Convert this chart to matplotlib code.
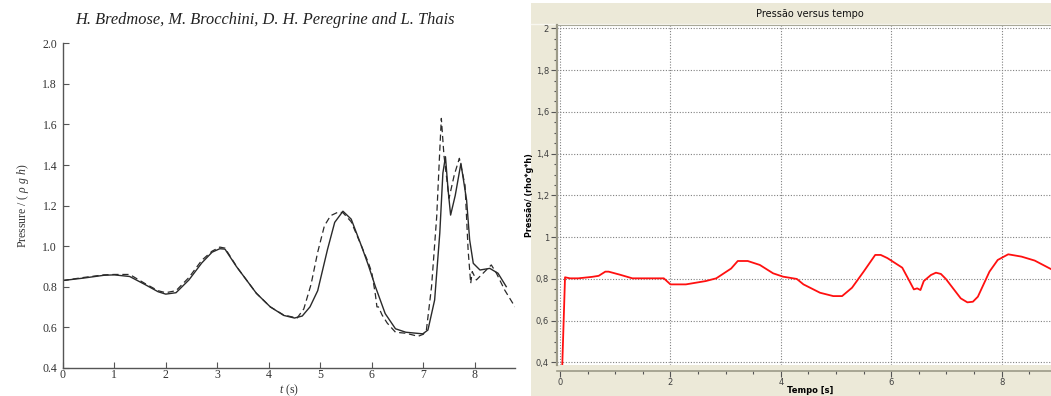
import numpy as np
import matplotlib.pyplot as plt
from matplotlib.patches import Rectangle
from matplotlib.ticker import MultipleLocator, FuncFormatter

plt.rcParams['mathtext.fontset'] = 'custom'
plt.rcParams['mathtext.rm'] = 'Liberation Serif'
plt.rcParams['mathtext.it'] = 'Liberation Serif:italic'

# ******************** Left: paper figure (numerical vs experiment) ********************
t_num = [0.0, 0.4, 0.8, 1.0, 1.3, 1.6, 1.85, 2.0, 2.2, 2.45, 2.7, 2.9, 3.05, 3.15, 3.37,
         3.76, 4.03, 4.29, 4.5, 4.65, 4.8, 4.95, 5.14, 5.28, 5.44, 5.6, 5.8, 5.93, 6.07,
         6.26, 6.46, 6.66, 6.99, 7.09, 7.22, 7.32, 7.38, 7.43, 7.48, 7.53, 7.62, 7.73,
         7.84, 7.90, 7.97, 8.10, 8.29, 8.45, 8.61]
p_num = [0.83, 0.842, 0.856, 0.858, 0.85, 0.81, 0.775, 0.763, 0.77, 0.833, 0.917, 0.97,
         0.987, 0.985, 0.90, 0.767, 0.70, 0.658, 0.645, 0.655, 0.70, 0.78, 0.983, 1.117,
         1.172, 1.133, 1.0, 0.908, 0.80, 0.667, 0.592, 0.575, 0.567, 0.586, 0.734, 1.064,
         1.36, 1.441, 1.28, 1.153, 1.25, 1.408, 1.227, 1.03, 0.915, 0.882, 0.89, 0.866, 0.80]

t_exp = [0.0, 0.4, 0.8, 1.0, 1.3, 1.6, 1.85, 2.0, 2.2, 2.45, 2.7, 2.9, 3.05, 3.15, 3.4,
         3.76, 4.03, 4.29, 4.55, 4.68, 4.82, 4.95, 5.08, 5.2, 5.35, 5.44, 5.6, 5.8, 5.93,
         6.0, 6.07, 6.1, 6.13, 6.2, 6.3, 6.46, 6.66, 6.9, 7.0, 7.06, 7.16, 7.26, 7.32,
         7.35, 7.40, 7.50, 7.60, 7.70, 7.81, 7.87, 7.92, 7.95, 8.03, 8.16, 8.32, 8.42,
         8.58, 8.78]
p_exp = [0.83, 0.845, 0.858, 0.86, 0.86, 0.815, 0.78, 0.77, 0.78, 0.845, 0.93, 0.975,
         0.995, 0.99, 0.89, 0.767, 0.70, 0.66, 0.645, 0.69, 0.81, 0.97, 1.10, 1.15, 1.168,
         1.165, 1.12, 1.0, 0.92, 0.87, 0.76, 0.70, 0.70, 0.66, 0.62, 0.575, 0.57, 0.555,
         0.565, 0.586, 0.80, 1.145, 1.474, 1.63, 1.45, 1.236, 1.35, 1.433, 1.30, 0.98,
         0.816, 0.874, 0.833, 0.866, 0.907, 0.866, 0.783, 0.70]

left_yticks = [0.4, 0.6, 0.8, 1.0, 1.2, 1.4, 1.6, 1.8, 2.0]
left_xticks = [0, 1, 2, 3, 4, 5, 6, 7, 8]

# ******************** Right: software screenshot ********************
t_sim = [0.04, 0.09, 0.18, 0.33, 0.58, 0.70, 0.82, 0.88, 1.09, 1.31, 1.88, 2.0, 2.28,
         2.64, 2.83, 3.1, 3.22, 3.40, 3.62, 3.86, 4.04, 4.29, 4.41, 4.71, 4.95, 5.11,
         5.29, 5.50, 5.71, 5.81, 5.93, 6.2, 6.32, 6.41, 6.47, 6.53, 6.59, 6.72, 6.81,
         6.90, 6.99, 7.26, 7.38, 7.48, 7.57, 7.78, 7.93, 8.12, 8.36, 8.60, 8.89]
p_sim = [0.387, 0.808, 0.803, 0.803, 0.81, 0.815, 0.835, 0.835, 0.82, 0.803, 0.803,
         0.774, 0.774, 0.79, 0.803, 0.85, 0.886, 0.886, 0.867, 0.827, 0.811, 0.80, 0.774,
         0.734, 0.718, 0.718, 0.758, 0.835, 0.915, 0.915, 0.90, 0.854, 0.795, 0.75, 0.755,
         0.747, 0.79, 0.819, 0.83, 0.824, 0.80, 0.707, 0.688, 0.691, 0.715, 0.835, 0.891,
         0.918, 0.907, 0.888, 0.848]

right_yticks = [0.4, 0.6, 0.8, 1.0, 1.2, 1.4, 1.6, 1.8, 2.0]
right_xticks = [0, 2, 4, 6, 8]

W, H = 1051, 396
fig = plt.figure(figsize=(W / 100, H / 100), dpi=100, facecolor='white')

# beige window background behind the right chart
fig.patches.append(Rectangle((531 / W, 0), 1 - 531 / W, 1 - 3 / H, transform=fig.transFigure,
                             facecolor='#ece9d8', edgecolor='none', zorder=-10))
fig.lines.append(plt.Line2D([531 / W, 1], [1 - 23.5 / H, 1 - 23.5 / H], transform=fig.transFigure,
                            color='#f8f7f0', lw=1, zorder=-9))

# ---------------- left panel ----------------
ax1 = fig.add_axes([62.7 / W, 1 - 367.7 / H, 452.3 / W, 324.3 / H])
ax1.set_facecolor('none')
ax1.plot(t_num, p_num, color='#2a2a2a', lw=1.0)
ax1.plot(t_exp, p_exp, color='#2a2a2a', lw=0.9, linestyle=(0, (5, 3)))
ax1.set_xlim(0, 8.78)
ax1.set_ylim(0.4, 2.0)
ax1.set_yticks(left_yticks)
ax1.set_xticks(left_xticks)
ax1.yaxis.set_major_formatter(FuncFormatter(lambda v, p: f'{v:.1f}'))
for s in ['top', 'right']:
    ax1.spines[s].set_visible(False)
for s in ['left', 'bottom']:
    ax1.spines[s].set_color('#555555')
    ax1.spines[s].set_linewidth(1.0)
ax1.tick_params(direction='in', length=4, width=0.8, color='#555555', labelcolor='#333333',
                labelsize=8.5)
ax1.tick_params(axis='x', pad=1)
ax1.tick_params(axis='y', pad=4)
for lab in ax1.get_xticklabels() + ax1.get_yticklabels():
    lab.set_fontfamily('Liberation Serif')
ax1.set_xlabel(r'$t$ (s)', fontsize=8.5, color='#333333', family='Liberation Serif',
               labelpad=1)
ax1.set_ylabel(r'Pressure / ( $\rho$ $g$ $h$)', fontsize=8.5, color='#333333',
               family='Liberation Serif', labelpad=8)
fig.text(265 / W, 1 - 19.5 / H, 'H. Bredmose, M. Brocchini, D. H. Peregrine and L. Thais',
         family='Liberation Serif', style='italic', fontsize=11.8, color='#222222',
         ha='center', va='center')

# ---------------- right panel ----------------
ax2 = fig.add_axes([557.3 / W, 1 - 365 / H, 1 - 557.3 / W, 340 / H], facecolor='white')
ax2.plot(t_sim, p_sim, color='#ff1010', lw=1.3)
ax2.set_xlim(-0.05, 8.895)
ax2.set_ylim(0.388, 2.016)
ax2.set_yticks(right_yticks)
ax2.set_xticks(right_xticks)
ax2.yaxis.set_minor_locator(MultipleLocator(0.05))
ax2.xaxis.set_minor_locator(MultipleLocator(0.5))
ax2.yaxis.set_major_formatter(FuncFormatter(lambda v, p: f'{v:g}'.replace('.', ',')))
ax2.grid(True, which='major', color='#808080', linestyle=(0, (1, 1.5)), linewidth=0.8)
ax2.spines['right'].set_visible(False)
ax2.spines['top'].set_color('#a8a898')
ax2.spines['left'].set_color('#9c9a88')
ax2.spines['left'].set_linewidth(1.6)
ax2.spines['bottom'].set_position(('outward', 4))
ax2.spines['bottom'].set_color('#9c9a88')
ax2.spines['bottom'].set_linewidth(1.2)
ax2.tick_params(which='major', length=4, width=0.8, color='#555555', labelsize=6,
                labelcolor='#404040', pad=2)
ax2.tick_params(axis='x', which='major', pad=1.5)
ax2.tick_params(which='minor', length=2.5, width=0.8, color='#555555')
ax2.set_xlabel('Tempo [s]', fontsize=6, fontweight='bold', va='center')
ax2.xaxis.set_label_coords((810 - 557.3) / 493.7, (365 - 390.5) / 340)
ax2.set_ylabel('Pressão/ (rho*g*h)', fontsize=5.8, fontweight='bold', va='center')
ax2.yaxis.set_label_coords((530 - 557.3) / 493.7, (365 - 195) / 340)
fig.text(810 / W, 1 - 14 / H, 'Pressão versus tempo', fontsize=7, color='#111111',
         ha='center', va='center')

plt.savefig('out.png', dpi=100, facecolor='white')
